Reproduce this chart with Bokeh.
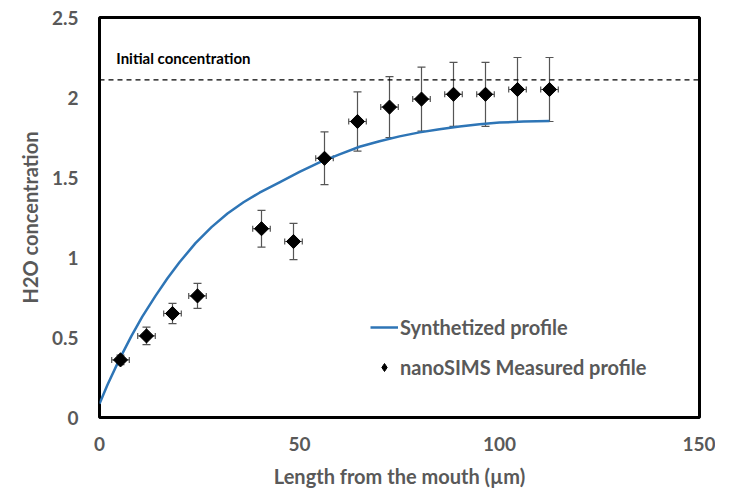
import math
from bokeh.plotting import figure
from bokeh.models import ColumnDataSource, Whisker, TeeHead, Span, Label, Legend, LegendItem, FixedTicker
from bokeh.embed import file_html
from bokeh.resources import INLINE

# Synthetized profile
curve_x = [0, 2, 5, 8, 10.7, 14, 17, 20, 24, 28, 32, 36, 40, 45, 50, 55, 60, 65, 70, 75,
           80, 85, 90, 95, 100, 106, 112.5]
curve_y = [0.086, 0.205, 0.365, 0.51, 0.63, 0.76, 0.87, 0.97, 1.09, 1.19, 1.275, 1.345, 1.405,
           1.47, 1.535, 1.595, 1.645, 1.692, 1.727, 1.757, 1.782, 1.802, 1.819, 1.833, 1.843, 1.85, 1.853]

# nanoSIMS measured profile
meas_x = [5.25, 11.75, 18.25, 24.5, 40.5, 48.5, 56.25, 64.5, 72.5, 80.5, 88.5, 96.5, 104.5, 112.5]
meas_y = [0.36, 0.51, 0.65, 0.76, 1.18, 1.10, 1.62, 1.85, 1.94, 1.99, 2.02, 2.02, 2.05, 2.05]
y_err = [0.03, 0.055, 0.063, 0.078, 0.115, 0.113, 0.165, 0.185, 0.19, 0.20, 0.20, 0.20, 0.20, 0.20]
x_err = [2.2] * len(meas_x)

initial_conc = 2.11
x_ticks = [0, 50, 100, 150]
y_ticks = [0, 0.5, 1, 1.5, 2, 2.5]

FONT = "Lato"
GREY = "#595959"

p = figure(width=715, height=490, x_range=(0, 150), y_range=(0, 2.5),
           output_backend="svg", toolbar_location=None,
           min_border_left=99, min_border_right=16, min_border_top=17, min_border_bottom=73)
p.background_fill_color = "white"
p.border_fill_color = "white"
p.outline_line_color = "black"
p.outline_line_width = 3
p.grid.grid_line_color = None

for ax in (p.xaxis, p.yaxis):
    ax.axis_line_color = None
    ax.major_tick_line_color = None
    ax.minor_tick_line_color = None
    ax.major_label_text_font = FONT
    ax.major_label_text_font_style = "bold"
    ax.major_label_text_font_size = "19px"
    ax.major_label_text_color = GREY
    ax.axis_label_text_font = FONT
    ax.axis_label_text_font_style = "bold"
    ax.axis_label_text_font_size = "20px"
    ax.axis_label_text_color = GREY

p.xaxis.ticker = FixedTicker(ticks=x_ticks)
p.yaxis.ticker = FixedTicker(ticks=y_ticks)
p.xaxis.major_label_standoff = 13
p.yaxis.major_label_standoff = 15
p.xaxis.axis_label = "Length from the mouth (µm)"
p.yaxis.axis_label = "H2O concentration"
p.xaxis.axis_label_standoff = 10
p.yaxis.axis_label_standoff = 7

# initial concentration dashed line
p.add_layout(Span(location=initial_conc, dimension="width", line_color="black",
                  line_dash="5 4", line_width=1.2))
p.add_layout(Label(x=4.2, y=2.19, text="Initial concentration",
                   text_font=FONT, text_font_style="bold", text_font_size="15px",
                   text_color="black"))

# curve
r_line = p.line(curve_x, curve_y, line_color="#2E75B6", line_width=2.5)

# error bars
src = ColumnDataSource(dict(
    x=meas_x, y=meas_y,
    yu=[v + e for v, e in zip(meas_y, y_err)], yl=[v - e for v, e in zip(meas_y, y_err)],
    xu=[v + e for v, e in zip(meas_x, x_err)], xl=[v - e for v, e in zip(meas_x, x_err)],
))
wy = Whisker(source=src, base="x", upper="yu", lower="yl", dimension="height",
             line_color="#555555", line_width=1.2,
             upper_head=TeeHead(size=8, line_color="#555555", line_width=1.2),
             lower_head=TeeHead(size=8, line_color="#555555", line_width=1.2))
wx = Whisker(source=src, base="y", upper="xu", lower="xl", dimension="width",
             line_color="#555555", line_width=1.2,
             upper_head=TeeHead(size=6, line_color="#555555", line_width=1.2),
             lower_head=TeeHead(size=6, line_color="#555555", line_width=1.2))
p.add_layout(wy)
p.add_layout(wx)

r_pts = p.scatter("x", "y", source=src, marker="square", size=10, angle=math.pi / 4,
                  fill_color="black", line_color="black")
# legend-only glyph (NaN position, never drawn in the plot): diamond symbol for the legend entry
r_leg = p.scatter(x=[float("nan")], y=[float("nan")], marker="diamond", size=14,
                  fill_color="black", line_color="black")

legend = Legend(items=[LegendItem(label="Synthetized profile", renderers=[r_line]),
                       LegendItem(label="nanoSIMS Measured profile", renderers=[r_leg])],
                location=(271, 38))
legend.background_fill_alpha = 0
legend.border_line_color = None
legend.label_text_font = FONT
legend.label_text_font_style = "bold"
legend.label_text_font_size = "20px"
legend.label_text_color = GREY
legend.glyph_width = 28
legend.spacing = 16
legend.label_standoff = 2
p.add_layout(legend, "center")

open("out.html", "w").write(file_html(p, INLINE))
